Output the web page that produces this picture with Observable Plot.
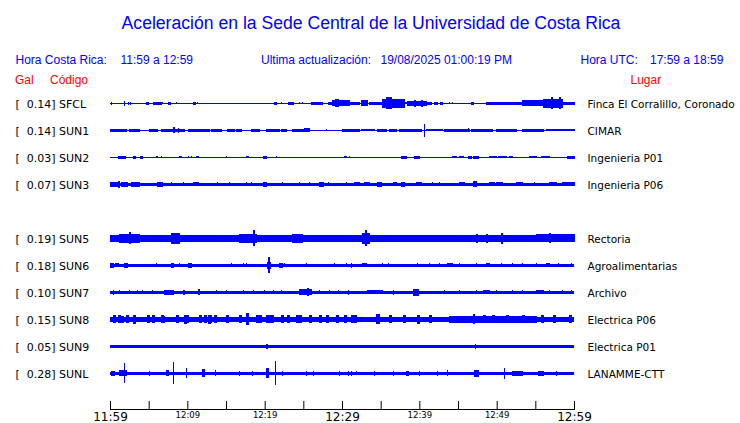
<!DOCTYPE html>
<html><head><meta charset="utf-8">
<script src="https://cdn.jsdelivr.net/npm/d3@7"></script>
<script src="https://cdn.jsdelivr.net/npm/@observablehq/plot@0.6"></script>
<style>
body{margin:0;background:#fff;}
#wrap{position:relative;width:740px;height:423px;overflow:hidden;background:#fff;}
#head{position:relative;height:92px;font-family:"Liberation Sans",Arial,sans-serif;}
#head span{position:absolute;white-space:pre;line-height:1;}
</style></head>
<body><div id="wrap"><div id="head"></div><div id="chart"></div></div>
<script>
// ---- text data ----
const title = "Aceleración en la Sede Central de la Universidad de Costa Rica";
const localRange = ["11:59", "12:59"];
const utcRange = ["17:59", "18:59"];
const updated = "19/08/2025 01:00:19 PM";
const tickLabels = ["11:59", "12:09", "12:19", "12:29", "12:39", "12:49", "12:59"];
const majorLabels = ["11:59", "12:29", "12:59"];

// ---- stations (SUN4 slot is empty) ----
const stations = ["SFCL","SUN1","SUN2","SUN3","SUN4","SUN5","SUN6","SUN7","SUN8","SUN9","SUNL"];
const places = ["Finca El Corralillo, Coronado","CIMAR","Ingenieria P01","Ingenieria P06","","Rectoria","Agroalimentarias","Archivo","Electrica P06","Electrica P01","LANAMME-CTT"];
const peakGal = [0.14, 0.14, 0.03, 0.07, null, 0.19, 0.18, 0.10, 0.15, 0.05, 0.28];
// background half-amplitude of each trace
const noise = [0.5, 0.6, 0.5, 1.3, null, 3.3, 1.4, 1.4, 2.6, 1.3, 1.6];

// ---- bursts: [start minute, end minute, half-amplitude] (minutes after 11:59) ----
const burstSFCL = [[0.2,0.2,1.5],[1.9,1.9,2.4],[2.4,2.4,1.2],[2.7,2.7,1.2],[4.7,5.0,1.5],[5.65,6.0,1.5],[6.2,6.7,1.5],[6.8,6.8,1],[7.5,7.85,1.5],[8.6,8.6,1],[10.8,11.1,1.5],[11.3,11.3,1],[21.3,21.55,1.3],[22.2,22.2,1],[23.1,23.75,1.5],[24.5,24.5,1],[24.9,24.9,1],[26.1,26.7,1.5],[26.85,27.5,1.5],[28.3,28.8,1.5],[28.8,31.0,3],[29.2,29.5,4],[31.0,32.3,1.5],[32.55,33.3,3],[33.6,35.3,1.2],[35.3,38.1,4.5],[35.8,36.4,6],[38.1,38.5,1],[38.5,40.95,2.8],[39.4,39.5,3.5],[40.3,40.4,3.5],[41.0,41.6,1.3],[42.0,42.3,1.2],[42.8,43.0,1.3],[43.9,43.9,1],[44.3,44.3,1],[46.75,47.0,1.5],[48.7,53.4,1.8],[53.4,56.0,3],[56.0,58.5,4.5],[57.1,57.2,6],[58.1,58.2,6],[58.5,60,1.8]];
const burstSUN1 = [[0.1,0.75,1.5],[0.75,2.1,1.5],[2.55,3.85,1.3],[5.1,6.2,1.5],[6.65,7.1,1.3],[7.2,9.65,1.8],[8.2,8.3,3],[8.8,8.9,2.5],[10.1,12.9,1.5],[13.1,14.4,1.5],[15.25,16.1,1.5],[16.35,17.0,1.2],[18.3,19.35,1.2],[20.2,21.9,1.5],[22.2,22.8,1.2],[23.65,25.0,1.5],[25.2,25.8,2],[28.0,28.0,1],[30.1,31.0,1.3],[31.0,32.3,1.2],[32.5,34.2,1],[34.65,35.75,1.2],[36.2,37.05,1.2],[37.45,40.3,1.5],[40.7,40.7,6.3],[40.9,43.05,1],[43.3,46.5,1.3],[46.3,46.4,2],[46.75,49.5,1.2],[49.95,52.55,1.2],[53.4,56.0,1.3],[56.4,60,1]];
const burstSUN2 = [[1.05,2.05,1.5],[3.0,3.3,1.3],[4.0,4.2,1.3],[6.0,6.2,1],[6.65,6.65,1],[9.0,9.2,1],[10.1,10.1,1],[10.5,10.5,1],[11.2,11.5,1],[15.05,15.05,1],[17.6,17.85,1],[19.8,20.2,1.5],[21.5,21.5,1],[21.95,21.95,0.8],[25.2,25.2,0.8],[30.35,30.6,1],[31.0,31.0,1],[31.9,31.9,0.8],[32.95,32.95,0.8],[34.9,34.9,0.8],[36.2,36.2,0.8],[36.8,36.8,0.8],[37.7,38.3,1.3],[39.4,40.05,1.3],[41.35,41.35,0.8],[43.05,43.05,0.8],[44.35,44.8,1.1],[45.2,45.65,1.1],[46.3,46.7,1.3],[46.95,47.6,1.5],[49.1,49.95,1],[50.2,51.25,1.1],[51.7,52.1,1],[52.55,52.55,0.8],[54.25,55.1,1],[55.8,56.85,1],[57.3,57.3,0.8],[58.15,58.15,0.8],[59.2,60,1.5]];
const burstSUN3 = [[0,1.25,2.5],[1.15,1.2,3.5],[1.45,2.3,2.3],[2.75,3.85,2.5],[6.2,6.85,2.3],[7.95,7.95,2],[9.45,9.45,2],[10.75,11.4,2],[13.95,13.95,2],[15.5,15.5,2],[17.65,17.65,2],[18.3,18.3,2],[19.8,20.2,2.5],[22.35,22.35,2],[24.55,24.55,2],[25.8,25.8,2],[27.1,27.6,2.5],[28.2,28.2,2],[30.55,30.55,2],[31.65,32.3,2],[32.95,33.6,2],[34.65,35.1,2.3],[36.6,37.05,2],[37.7,38.1,2.3],[39.6,40.25,2],[41.75,41.75,2],[42.6,42.6,2],[45.2,45.85,2],[46.95,47.4,3],[49.1,49.75,2],[49.95,50.8,2],[52.55,53.4,2],[54.9,54.9,2],[56.85,57.7,2],[58.55,60,2]];
const burstSUN4 = [];
const burstSUN5 = [[0,1.25,3.8],[1.25,3.85,4.5],[2.5,2.6,6],[3.85,7.3,3.8],[7.95,9.0,5.5],[9.0,11.6,3.8],[11.6,12.9,3.6],[16.8,18.95,4.2],[18.6,18.65,8],[23.65,24.95,4.5],[24.95,31.0,3.6],[31.0,31.85,3.8],[32.7,33.6,5.5],[33.1,33.2,8],[42.2,45.2,3.8],[45.65,50.4,3.8],[47.4,47.5,4.5],[48.7,48.8,4.5],[50.6,50.7,5.5],[50.4,55.1,3.8],[55.1,60,4],[56.85,56.95,5]];
const burstSUN6 = [[0,0.4,2.3],[0.75,1.05,2],[1.9,2.3,2.5],[6.0,6.0,2],[7.95,8.15,2.5],[9.0,9.0,2],[10.1,10.5,2.5],[15.7,15.7,2],[17.2,17.2,2],[17.65,17.65,2],[20.4,20.75,3.5],[20.55,20.6,8],[21.95,22.35,2.5],[22.6,22.6,2],[25.4,25.4,2],[29.05,29.05,2],[30.55,30.55,2],[31.2,31.2,2.5],[32.7,33.15,2],[35.3,35.3,2],[35.95,35.95,2],[39.8,39.8,2],[41.35,41.35,2],[42.6,42.6,2],[43.7,44.35,2],[45.2,45.2,2],[47.4,47.4,2],[48.7,49.1,2],[50.6,50.6,2],[52.1,52.1,2],[53.4,53.4,2],[55.15,55.15,2],[56.45,56.85,2],[57.95,57.95,2],[59.65,59.65,2]];
const burstSUN7 = [[0.4,0.4,2.3],[1.25,1.25,2],[2.55,2.55,2],[3.6,3.6,2],[4.25,4.25,2],[5.55,5.55,2],[7.05,8.15,2.5],[9.45,9.65,2.5],[11.4,11.6,3],[13.75,13.75,2],[15.05,15.05,2],[17.2,17.2,2],[18.5,18.5,2],[20.0,20.0,2],[21.1,21.1,2],[22.15,22.15,2],[24.55,26.05,3],[25.6,25.7,4],[27.1,27.1,2],[28.4,28.4,2],[29.5,29.5,2],[30.8,30.8,2.5],[33.35,35.3,2],[36.6,36.6,2.5],[39.2,39.85,3.5],[43.3,43.3,2],[45.2,45.2,2],[47.4,47.4,2],[48.25,49.1,2],[49.95,49.95,2],[52.1,52.1,2],[53.4,53.4,2],[55.15,56.0,2],[56.85,56.85,2],[58.55,58.55,2],[59.65,59.65,2]];
const burstSUN8 = [[0.4,0.65,4],[1.05,1.3,4],[1.45,1.7,3.8],[2.1,2.35,4],[3.0,3.25,4.5],[4.9,5.15,4],[5.55,5.8,4],[6.65,6.9,4],[6.85,7.1,3.8],[8.6,8.85,4],[9.65,9.9,4.5],[9.9,10.15,4],[11.6,11.85,4],[12.25,12.5,4],[12.7,12.95,4.5],[12.9,13.15,4],[13.55,13.8,4],[15.05,15.3,4],[16.8,17.05,4],[17.65,17.9,6],[18.95,19.2,4],[19.35,19.6,4],[20.2,21.1,4],[22.15,22.4,4],[23.0,23.25,4],[24.1,24.35,4],[24.55,24.8,4],[25.8,26.05,4],[27.1,27.35,4],[28.0,28.25,4],[29.3,29.55,4],[30.35,30.6,4],[31.2,31.85,4],[34.45,34.9,5],[36.2,36.45,4],[37.9,38.15,4],[39.8,40.05,4.5],[41.35,41.6,4],[43.9,55.15,3.3],[46.95,47.1,5],[48.25,48.5,4],[49.5,49.75,4],[51.25,51.5,4],[53.4,53.65,4],[55.8,56.05,4],[57.3,57.55,4],[59.45,59.7,4]];
const burstSUN9 = [[20.3,20.4,2.5],[47.2,47.3,2.5]];
const burstSUNL = [[0.2,0.6,2.5],[1.25,2.1,3],[1.9,1.9,10],[5.15,5.15,2.5],[7.3,7.5,3],[8.25,8.25,11],[9.9,9.9,5],[12.0,12.25,4],[13.65,13.65,3],[16.8,16.8,2.2],[18.4,18.4,2.2],[20.2,20.45,5],[21.45,21.45,12],[22.3,22.3,2.5],[25.4,25.4,2.5],[26.25,26.25,2.5],[29.7,29.7,2.2],[30.8,30.8,2.5],[31.2,31.2,2.5],[31.85,31.85,2],[34.2,34.2,2.5],[36.6,36.6,2.5],[38.3,38.55,2.2],[40.05,40.05,2.5],[42.4,42.4,2.2],[43.7,43.7,3],[47.15,47.6,3.5],[51.05,51.05,5.5],[52.1,53.4,2.2],[55.35,56.0,2.5],[57.7,57.7,2.5]];

const bursts = [burstSFCL, burstSUN1, burstSUN2, burstSUN3, burstSUN4, burstSUN5, burstSUN6, burstSUN7, burstSUN8, burstSUN9, burstSUNL];
const span = [0, 60];        // minutes shown
const traceGap = 27;         // amplitude units between stacked traces

// ---- header (HTML text) ----
const head = document.getElementById("head");
function addSpan(text, left, top, size, color, extra) {
  const s = document.createElement("span");
  s.textContent = text;
  s.style.left = left + "px";
  s.style.top = top + "px";
  s.style.fontSize = size + "px";
  s.style.color = color;
  if (extra) Object.assign(s.style, extra);
  head.appendChild(s);
}
addSpan(title, 0, 15, 17.6, "#0000ff", {width: "742px", textAlign: "center"});
addSpan("Hora Costa Rica:", 15.5, 54.3, 12, "#0000ff");
addSpan(`${localRange[0]} a ${localRange[1]}`, 120.5, 54.3, 12, "#0000ff");
addSpan("Ultima actualización:", 261, 54.3, 12, "#0000ff");
addSpan(updated, 380.5, 54.3, 12, "#0000ff");
addSpan("Hora UTC:", 580.5, 54.3, 12, "#0000ff");
addSpan(`${utcRange[0]} a ${utcRange[1]}`, 650, 54.3, 12, "#0000ff");
addSpan("Gal", 15, 74.1, 12, "#ff0000");
addSpan("Código", 50, 74.1, 12, "#ff0000");
addSpan("Lugar", 630.5, 74.1, 12, "#ff0000");

// ---- tables for marks ----
const rows = stations.map((s, i) => ({row: i, code: s, place: places[i], gal: peakGal[i], noise: noise[i]}))
  .filter(d => d.gal != null);
const burstRows = [];
bursts.forEach((list, i) => list.forEach(([t0, t1, amp]) => burstRows.push({row: i, t0, t1, amp})));
const tickMinutes = d3.range(span[0], span[1] + 1, 5);
const labelRows = tickLabels.map((lab, i) => ({t: i * 10, lab, major: majorLabels.includes(lab)}));

const chart = Plot.plot({
  width: 740,
  height: 331,
  marginLeft: 110,
  marginRight: 166,
  marginTop: 0,
  marginBottom: 14,
  style: {fontFamily: "DejaVu Sans", fontSize: "11px", background: "#fff", color: "#000", overflow: "visible"},
  x: {domain: span, axis: null},
  y: {domain: [0, (stations.length - 1) * traceGap], range: [11.3, 281.3], axis: null},
  marks: [
    // background trace band
    Plot.rect(rows, {
      x1: () => span[0], x2: () => span[1],
      y1: d => d.row * traceGap - d.noise, y2: d => d.row * traceGap + d.noise,
      fill: "#0000ff", shapeRendering: "crispEdges"
    }),
    // bursts / spikes
    Plot.rect(burstRows, {
      x1: "t0", x2: "t1",
      y1: d => d.row * traceGap - d.amp, y2: d => d.row * traceGap + d.amp,
      fill: "#0000ff", insetLeft: -0.5, insetRight: -0.5, shapeRendering: "crispEdges"
    }),
    // left labels
    Plot.text(rows, {
      y: d => d.row * traceGap,
      text: d => `[\u00a0\u00a0${d.gal.toFixed(2)}] ${d.code}`,
      frameAnchor: "left", textAnchor: "start", dx: -95, dy: 1, fontSize: 11, fill: "#000"
    }),
    // right labels
    Plot.text(rows, {
      y: d => d.row * traceGap,
      text: "place",
      frameAnchor: "right", textAnchor: "start", dx: 13, dy: 1, fontSize: 10.5, fill: "#000"
    }),
    // time axis
    Plot.frame({anchor: "bottom", stroke: "#000"}),
    Plot.ruleX(tickMinutes, {x: d => d, insetTop: 309, stroke: "#000"}),
    Plot.text(labelRows, {
      x: "t", text: "lab", frameAnchor: "bottom", lineAnchor: "top",
      dy: d => 0, fontSize: d => d.major ? 12 : 8.5, fill: "#000",
      dy: 2.5
    })
  ]
});
document.getElementById("chart").appendChild(chart);
</script>
</body></html>
